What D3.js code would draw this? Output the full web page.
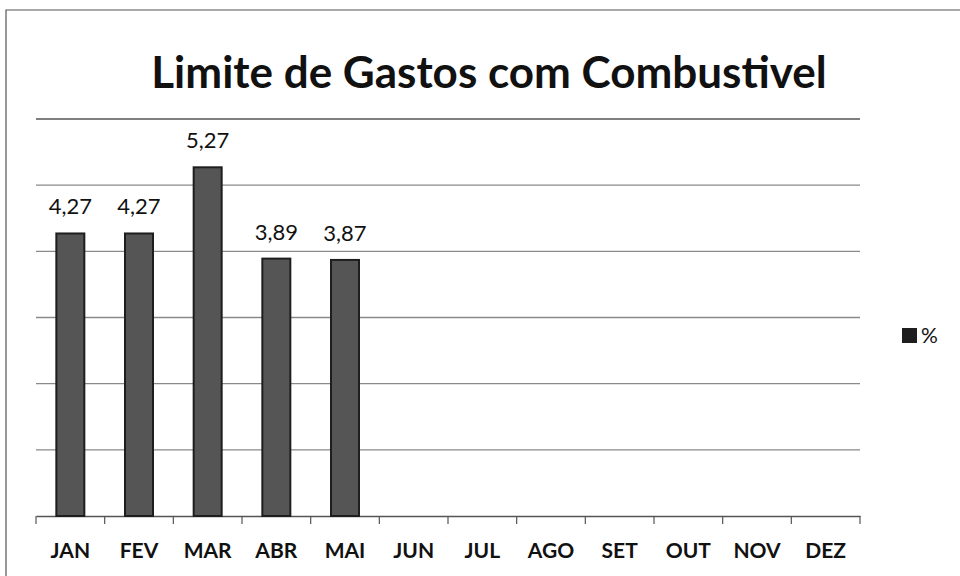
<!DOCTYPE html>
<html><head><meta charset="utf-8">
<script src="https://cdn.jsdelivr.net/npm/d3@7/dist/d3.min.js"></script>
<style>html,body{margin:0;padding:0;background:#fff;}svg{display:block;}</style>
</head><body>
<script>
const categories = ["JAN","FEV","MAR","ABR","MAI","JUN","JUL","AGO","SET","OUT","NOV","DEZ"];
const values = [4.27, 4.27, 5.27, 3.89, 3.87, null, null, null, null, null, null, null];
const yTicks = [0,1,2,3,4,5,6];
const title = "Limite de Gastos com Combustivel";
const seriesName = "%";

const W = 960, H = 576;
const svg = d3.select("body").append("svg").attr("width", W).attr("height", H);
const font = "Lato, 'Open Sans', sans-serif";

// chart border (left and top only visible)
svg.append("path").attr("d", `M6,${H} V10 H${W}`).attr("fill","none").attr("stroke","#555").attr("stroke-width",1.2);

const x = d3.scaleBand().domain(categories).range([36, 860]).paddingInner(0).paddingOuter(0);
const y = d3.scaleLinear().domain([0, 6]).range([516, 119]);

// gridlines
svg.append("g").selectAll("line").data(yTicks.filter(t => t > 0)).join("line")
  .attr("x1", 36).attr("x2", 860)
  .attr("y1", d => y(d)).attr("y2", d => y(d))
  .attr("stroke", d => d === 6 ? "#555" : "#8a8a8a").attr("stroke-width", 1.3);

// x axis
const xAxis = d3.axisBottom(x).tickSize(0).tickPadding(0);
const gx = svg.append("g").attr("transform", "translate(0,516)").call(xAxis);
gx.select(".domain").attr("stroke", "#555").attr("stroke-width", 1.3);
gx.selectAll("text").remove();
// ticks between categories
svg.append("g").selectAll("line").data(categories.concat(["_end"])).join("line")
  .attr("x1", (d,i) => i < categories.length ? x(d) : x.range()[1])
  .attr("x2", (d,i) => i < categories.length ? x(d) : x.range()[1])
  .attr("y1", 516).attr("y2", 524)
  .attr("stroke", "#555").attr("stroke-width", 1.2);

svg.append("g").selectAll("text").data(categories).join("text")
  .attr("x", d => x(d) + x.bandwidth()/2).attr("y", 558)
  .attr("text-anchor","middle").attr("font-family", font).attr("font-weight","bold")
  .attr("font-size", 21).attr("fill","#111").text(d => d);

// bars
const bw = 28;
const data = categories.map((c,i) => ({c, v: values[i]})).filter(d => d.v != null);
svg.append("g").selectAll("rect").data(data).join("rect")
  .attr("x", d => x(d.c) + x.bandwidth()/2 - bw/2)
  .attr("y", d => y(d.v))
  .attr("width", bw)
  .attr("height", d => y(0) - y(d.v))
  .attr("fill", "#555").attr("stroke", "#1e1e1e").attr("stroke-width", 2);

// data labels
svg.append("g").selectAll("text").data(data).join("text")
  .attr("x", d => x(d.c) + x.bandwidth()/2)
  .attr("y", d => y(d.v) - 19)
  .attr("text-anchor","middle").attr("font-family", font)
  .attr("font-size", 22).attr("fill","#111")
  .text(d => d3.format(".2f")(d.v).replace(".", ","));

// title
svg.append("text").attr("x", 489).attr("y", 88).attr("text-anchor","middle")
  .attr("font-family", font).attr("font-weight","bold").attr("font-size", 44)
  .attr("fill","#111").text(title);

// legend
svg.append("rect").attr("x", 902).attr("y", 328).attr("width", 15).attr("height", 15).attr("fill","#1e1e1e");
svg.append("text").attr("x", 921).attr("y", 343).attr("font-family", font)
  .attr("font-size", 21).attr("fill","#111").text(seriesName);
</script>
</body></html>
